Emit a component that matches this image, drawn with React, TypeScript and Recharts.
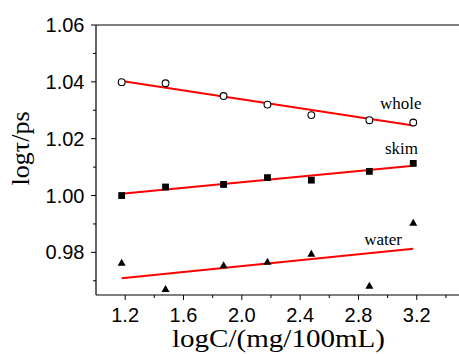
import React from 'react';
import { ComposedChart, XAxis, YAxis, Scatter, Line, ReferenceLine, ReferenceDot } from 'recharts';

const logC = [1.176, 1.477, 1.875, 2.176, 2.477, 2.875, 3.176];
const wholeVals = [1.0399, 1.0395, 1.035, 1.032, 1.0283, 1.0265, 1.0257];
const skimVals = [1.0, 1.003, 1.0039, 1.0063, 1.0054, 1.0085, 1.0113];
const waterVals = [0.9764, 0.9672, 0.9755, 0.9768, 0.9796, 0.9683, 0.9905];

const fitX = [1.176, 3.176];
const wholeFit = [1.0403, 1.0246];
const skimFit = [1.0006, 1.0105];
const waterFit = [0.9709, 0.9813];

const xTicks = [1.2, 1.4, 1.6, 1.8, 2.0, 2.2, 2.4, 2.6, 2.8, 3.0, 3.2, 3.4];
const yTicks = [0.97, 0.98, 0.99, 1.0, 1.01, 1.02, 1.03, 1.04, 1.05, 1.06];

const seriesLabels = [
  { text: 'whole', x: 2.948, y: 1.0306 },
  { text: 'skim', x: 2.982, y: 1.0145 },
  { text: 'water', x: 2.84, y: 0.9825 },
];

const toPts = (xs: number[], ys: number[]) => xs.map((x, i) => ({ x, y: ys[i] }));

const wholeData = toPts(logC, wholeVals);
const skimData = toPts(logC, skimVals);
const waterData = toPts(logC, waterVals);
const wholeLine = toPts(fitX, wholeFit);
const skimLine = toPts(fitX, skimFit);
const waterLine = toPts(fitX, waterFit);

const SANS = '"Liberation Sans", Arial, sans-serif';
const SERIF = '"Liberation Serif", "Times New Roman", serif';

const XTick = (props: any) => {
  const { x, y, payload } = props;
  const v = payload.value as number;
  const major = Math.round(v * 10) % 4 === 0;
  return (
    <g>
      <line x1={x} x2={x} y1={y} y2={y + (major ? 5 : 3)} stroke="#000" strokeWidth={1} />
      {major && (
        <text x={x} y={y + 26.5} textAnchor="middle" fontSize={20} fontFamily={SANS} fill="#000">
          {v.toFixed(1)}
        </text>
      )}
    </g>
  );
};

const YTick = (props: any) => {
  const { x, y, payload } = props;
  const v = payload.value as number;
  const major = Math.round(v * 100) % 2 === 0;
  return (
    <g>
      <line x1={x} x2={x - (major ? 5 : 3)} y1={y} y2={y} stroke="#000" strokeWidth={1} />
      {major && (
        <text x={x - 11.5} y={y} textAnchor="end" dominantBaseline="central" fontSize={20} fontFamily={SANS} fill="#000">
          {v.toFixed(2)}
        </text>
      )}
    </g>
  );
};

const OpenCircle = (p: any) => (
  <circle cx={p.cx} cy={p.cy} r={3.4} fill="#fff" stroke="#000" strokeWidth={1.1} />
);
const Square = (p: any) => (
  <rect x={p.cx - 3.4} y={p.cy - 3.4} width={6.8} height={6.8} fill="#000" />
);
const Triangle = (p: any) => (
  <path d={`M${p.cx},${p.cy - 3.8} L${p.cx + 4},${p.cy + 3.2} L${p.cx - 4},${p.cy + 3.2} Z`} fill="#000" />
);

export default function App() {
  return (
    <div style={{ position: 'fixed', left: 0, top: 0, width: 459, height: 354, overflow: 'hidden', background: '#fff' }}>
      <ComposedChart width={470} height={354} margin={{ top: 25, right: 9.5, left: 0, bottom: 0 }}>
        <XAxis
          type="number"
          dataKey="x"
          domain={[1.0, 3.5]}
          ticks={xTicks}
          interval={0}
          allowDataOverflow
          tickLine={false}
          tickSize={0}
          tickMargin={0}
          height={59}
          axisLine={{ stroke: '#000', strokeWidth: 1.2 }}
          tick={<XTick />}
          label={() => (
            <text x={278.5} y={347} textAnchor="middle" fontSize={25} textLength={213} lengthAdjust="spacingAndGlyphs" fontFamily={SERIF} fill="#000">
              logC/(mg/100mL)
            </text>
          )}
        />
        <YAxis
          type="number"
          dataKey="y"
          domain={[0.965, 1.06]}
          ticks={yTicks}
          interval={0}
          allowDataOverflow
          tickLine={false}
          tickSize={0}
          tickMargin={0}
          width={96}
          axisLine={{ stroke: '#000', strokeWidth: 1.2 }}
          tick={<YTick />}
          label={() => (
            <text transform="translate(29,148.5) rotate(-90)" textAnchor="middle" fontSize={26} fontFamily={SERIF} fill="#000">
              logτ/ps
            </text>
          )}
        />
        <ReferenceLine y={1.06} stroke="#000" strokeWidth={1.2} />
        <Line data={wholeLine} dataKey="y" stroke="#ff0000" strokeWidth={2} dot={false} isAnimationActive={false} />
        <Line data={skimLine} dataKey="y" stroke="#ff0000" strokeWidth={2} dot={false} isAnimationActive={false} />
        <Line data={waterLine} dataKey="y" stroke="#ff0000" strokeWidth={2} dot={false} isAnimationActive={false} />
        <Scatter data={wholeData} dataKey="y" shape={<OpenCircle />} isAnimationActive={false} />
        <Scatter data={skimData} dataKey="y" shape={<Square />} isAnimationActive={false} />
        <Scatter data={waterData} dataKey="y" shape={<Triangle />} isAnimationActive={false} />
        {seriesLabels.map((l) => (
          <ReferenceDot
            key={l.text}
            x={l.x}
            y={l.y}
            r={0}
            shape={(p: any) => (
              <text x={p.cx} y={p.cy} fontSize={17} fontFamily={SERIF} fill="#000">
                {l.text}
              </text>
            )}
          />
        ))}
      </ComposedChart>
    </div>
  );
}
